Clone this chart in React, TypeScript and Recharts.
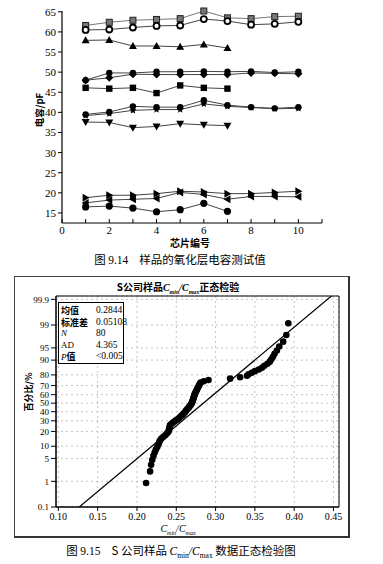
import React from 'react';
import {
  LineChart,
  Line,
  XAxis,
  YAxis,
  ScatterChart,
  Scatter,
  CartesianGrid,
  ReferenceLine,
  ReferenceArea,
} from 'recharts';

// ---------- Figure 9.14 data ----------
const chipNos = [1, 2, 3, 4, 5, 6, 7, 8, 9, 10];
const chipTicks = [0, 1, 2, 3, 4, 5, 6, 7, 8, 9, 10, 11];
const capTicks = [15, 20, 25, 30, 35, 40, 45, 50, 55, 60, 65];
const capA = [61.6, 62.4, 62.9, 63.1, 63.3, 65.2, 63.5, 63.3, 63.8, 63.9];
const capB = [60.5, 60.6, 61.1, 61.5, 61.6, 63.2, 62.7, 61.8, 62.0, 62.5];
const capC = [57.9, 58.0, 56.5, 56.5, 56.3, 56.9, 56.0];
const capD = [48.0, 49.8, 49.8, 50.1, 50.1, 50.2, 50.1, 50.2, 49.9, 50.1];
const capE = [48.0, 48.6, 49.5, 49.4, 49.4, 49.4, 49.4, 49.8, 49.7, 49.6];
const capF = [46.1, 45.9, 46.1, 44.8, 46.7, 46.1, 45.9];
const capG = [39.5, 40.1, 41.5, 41.3, 41.3, 43.0, 41.8, 41.3, 41.0, 41.3];
const capH = [39.2, 39.7, 40.5, 40.7, 40.7, 42.1, 41.5, 41.2, 40.9, 41.0];
const capI = [37.6, 37.5, 36.2, 36.5, 37.2, 36.9, 36.7];
const capJ = [18.8, 19.4, 19.4, 19.8, 20.4, 20.2, 19.8, 19.8, 20.1, 20.4];
const capK = [17.5, 18.2, 18.4, 18.6, 20.1, 19.6, 18.4, 19.1, 19.1, 19.0];
const capL = [16.5, 16.7, 16.2, 15.3, 15.8, 17.4, 15.4];

const capSeries: { key: string; values: number[]; marker: string }[] = [
  { key: 'A', values: capA, marker: 'graySquare' },
  { key: 'B', values: capB, marker: 'openCircle' },
  { key: 'C', values: capC, marker: 'triUp' },
  { key: 'D', values: capD, marker: 'circle' },
  { key: 'E', values: capE, marker: 'diamond' },
  { key: 'F', values: capF, marker: 'square' },
  { key: 'G', values: capG, marker: 'circle' },
  { key: 'H', values: capH, marker: 'star' },
  { key: 'I', values: capI, marker: 'triDown' },
  { key: 'J', values: capJ, marker: 'triRight' },
  { key: 'K', values: capK, marker: 'triLeft' },
  { key: 'L', values: capL, marker: 'bigCircle' },
];

const capRows = chipNos.map((n, i) => {
  const row: any = { chip: n };
  capSeries.forEach((s) => {
    row[s.key] = i < s.values.length ? s.values[i] : null;
  });
  return row;
});

// ---------- Figure 9.15 data ----------
const ratioValues = [
  0.2116, 0.2167, 0.218, 0.2195, 0.221, 0.2225, 0.224, 0.2258, 0.227, 0.2282,
  0.2292, 0.231, 0.2336, 0.236, 0.238, 0.2398, 0.2405, 0.241, 0.2415, 0.2418,
  0.2422, 0.244, 0.2458, 0.248, 0.25, 0.2525, 0.254, 0.2555, 0.257, 0.2585,
  0.2598, 0.261, 0.262, 0.263, 0.2642, 0.2655, 0.2665, 0.2675, 0.2685, 0.2692,
  0.27, 0.2705, 0.271, 0.2713, 0.2718, 0.2722, 0.2726, 0.273, 0.2735, 0.2742,
  0.2748, 0.2755, 0.2762, 0.2768, 0.2775, 0.2785, 0.2792, 0.28, 0.281, 0.285,
  0.291, 0.3185, 0.3312, 0.34, 0.342, 0.346, 0.35, 0.355, 0.359, 0.362,
  0.366, 0.369, 0.371, 0.373, 0.375, 0.378, 0.381, 0.386, 0.39, 0.3925,
];
const ratioTicks = [0.1, 0.15, 0.2, 0.25, 0.3, 0.35, 0.4, 0.45];
const pctLabels = ['0.1', '1', '5', '10', '20', '30', '40', '50', '60', '70', '80', '90', '95', '99', '99.9'];
const statLabels = ['均值', '标准差', 'N', 'AD', 'P值'];
const statValues = ['0.2844', '0.05108', '80', '4.365', '<0.005'];
const fitMean = 0.2844;
const fitSd = 0.05108;

// inverse standard normal CDF (probability-scale axis)
function probit(p: number): number {
  const a = [-3.969683028665376e1, 2.209460984245205e2, -2.759285104469687e2, 1.38357751867269e2, -3.066479806614716e1, 2.506628277459239];
  const b = [-5.447609879822406e1, 1.615858368580409e2, -1.556989798598866e2, 6.680131188771972e1, -1.328068155288572e1];
  const c = [-7.784894002430293e-3, -3.223964580411365e-1, -2.400758277161838, -2.549732539343734, 4.374664141464968, 2.938163982698783];
  const d = [7.784695709041462e-3, 3.224671290700398e-1, 2.445134137142996, 3.754408661907416];
  const pl = 0.02425;
  let q: number, r: number;
  if (p < pl) {
    q = Math.sqrt(-2 * Math.log(p));
    return (((((c[0] * q + c[1]) * q + c[2]) * q + c[3]) * q + c[4]) * q + c[5]) / ((((d[0] * q + d[1]) * q + d[2]) * q + d[3]) * q + 1);
  }
  if (p <= 1 - pl) {
    q = p - 0.5;
    r = q * q;
    return ((((((a[0] * r + a[1]) * r + a[2]) * r + a[3]) * r + a[4]) * r + a[5]) * q) / (((((b[0] * r + b[1]) * r + b[2]) * r + b[3]) * r + b[4]) * r + 1);
  }
  q = Math.sqrt(-2 * Math.log(1 - p));
  return -(((((c[0] * q + c[1]) * q + c[2]) * q + c[3]) * q + c[4]) * q + c[5]) / ((((d[0] * q + d[1]) * q + d[2]) * q + d[3]) * q + 1);
}

const zTicks = pctLabels.map((l) => probit(parseFloat(l) / 100));
const zMin = probit(0.001);
const zMax = 3.19;
const nPts = ratioValues.length;
const probPoints = ratioValues.map((v, i) => ({ x: v, z: probit((i + 1 - 0.3) / (nPts + 0.4)) }));
const xDomain: [number, number] = [0.097, 0.457];

const SERIF = '"Liberation Serif", "DejaVu Serif", serif';
const CJK = '"Noto Sans CJK SC", sans-serif';

function makeDot(kind: string) {
  return (p: any) => {
    const { cx, cy, index, value } = p;
    const k = `${kind}-${index}`;
    if (cx == null || cy == null || value == null || (Array.isArray(value) && value[1] == null)) return <g key={k} />;
    switch (kind) {
      case 'graySquare':
        return <rect key={k} x={cx - 3} y={cy - 3} width={6} height={6} fill="#777" stroke="#222" strokeWidth={1} />;
      case 'openCircle':
        return <circle key={k} cx={cx} cy={cy} r={3} fill="#fff" stroke="#000" strokeWidth={1.8} />;
      case 'triUp':
        return <polygon key={k} points={`${cx},${cy - 4} ${cx - 4},${cy + 3} ${cx + 4},${cy + 3}`} fill="#000" />;
      case 'triDown':
        return <polygon key={k} points={`${cx},${cy + 4} ${cx - 4},${cy - 3} ${cx + 4},${cy - 3}`} fill="#000" />;
      case 'triRight':
        return <polygon key={k} points={`${cx + 4},${cy} ${cx - 3},${cy - 4} ${cx - 3},${cy + 4}`} fill="#000" />;
      case 'triLeft':
        return <polygon key={k} points={`${cx - 4},${cy} ${cx + 3},${cy - 4} ${cx + 3},${cy + 4}`} fill="#000" />;
      case 'square':
        return <rect key={k} x={cx - 3.2} y={cy - 3.2} width={6.4} height={6.4} fill="#000" />;
      case 'diamond':
        return <polygon key={k} points={`${cx},${cy - 4} ${cx + 4},${cy} ${cx},${cy + 4} ${cx - 4},${cy}`} fill="#000" />;
      case 'star': {
        const pts: string[] = [];
        for (let j = 0; j < 10; j++) {
          const ang = (Math.PI / 5) * j - Math.PI / 2;
          const rr = j % 2 === 0 ? 3.8 : 1.8;
          pts.push(`${cx + rr * Math.cos(ang)},${cy + rr * Math.sin(ang)}`);
        }
        return <polygon key={k} points={pts.join(' ')} fill="#000" />;
      }
      case 'bigCircle':
        return <circle key={k} cx={cx} cy={cy} r={3.6} fill="#000" />;
      default:
        return <circle key={k} cx={cx} cy={cy} r={3.2} fill="#000" />;
    }
  };
}

const TopXTick = (p: any) => {
  const { x, y, payload } = p;
  const v = payload.value;
  return (
    <g>
      <line x1={x} y1={y} x2={x} y2={y - 4} stroke="#000" strokeWidth={1} />
      {v % 2 === 0 ? (
        <text x={x} y={y + 10.5} textAnchor="middle" fontFamily={SERIF} fontSize={11} fill="#000">
          {v}
        </text>
      ) : null}
    </g>
  );
};

const ProbDot = (p: any) => {
  const { cx, cy } = p;
  return <circle cx={cx} cy={cy} r={3.3} fill="#000" />;
};

const abs = (left: number, top: number, extra: React.CSSProperties = {}): React.CSSProperties => ({
  position: 'absolute',
  left,
  top,
  whiteSpace: 'nowrap',
  lineHeight: 1,
  ...extra,
});

export default function App() {
  return (
    <div style={{ position: 'absolute', left: 0, top: 0, width: 383, height: 564, background: '#fff', overflow: 'hidden' }}>
      {/* Figure 9.14 */}
      <div style={{ position: 'absolute', left: 0, top: 0 }}>
        <LineChart width={383} height={250} data={capRows} margin={{ top: 11, right: 61, bottom: 0, left: 0 }}>
          <XAxis
            dataKey="chip"
            type="number"
            domain={[0, 11]}
            ticks={chipTicks}
            interval={0}
            height={27}
            tickSize={0}
            tickMargin={0}
            tickLine={false}
            axisLine={{ stroke: '#000', strokeWidth: 1.2 }}
            tick={<TopXTick />}
          />
          <YAxis
            type="number"
            domain={[12.5, 65]}
            ticks={capTicks}
            interval={0}
            width={62}
            tickSize={4}
            tickMargin={2}
            axisLine={{ stroke: '#000', strokeWidth: 1.2 }}
            tickLine={{ stroke: '#000' }}
            tick={{ fontFamily: SERIF, fontSize: 11, fill: '#000' }}
          />
          {capSeries.map((s) => (
            <Line
              key={s.key}
              dataKey={s.key}
              type="linear"
              stroke={s.marker === 'graySquare' ? '#777' : '#444'}
              strokeWidth={1}
              dot={makeDot(s.marker)}
              activeDot={false}
              isAnimationActive={false}
              connectNulls={false}
            />
          ))}
        </LineChart>
      </div>
      <div style={abs(40, 110, { fontFamily: CJK, fontSize: 9.5, fontWeight: 700, transform: 'translate(-50%, -50%) rotate(-90deg)' })}>
        电容/pF
      </div>
      <div style={abs(190, 243, { fontFamily: CJK, fontSize: 10, fontWeight: 700, transform: 'translate(-50%, -50%)' })}>
        芯片编号
      </div>
      <div style={abs(180, 260, { fontFamily: CJK, fontSize: 11.5, transform: 'translate(-50%, -50%)' })}>
        <span style={{ fontFamily: CJK }}>图 </span>
        <span style={{ fontFamily: SERIF }}>9.14</span>
        <span style={{ marginLeft: 11 }}>样品的氧化层电容测试值</span>
      </div>

      {/* Figure 9.15 frame */}
      <div
        style={{
          position: 'absolute',
          left: 14,
          top: 276,
          width: 333,
          height: 259,
          borderTop: '1px solid #444',
          borderLeft: '1px solid #444',
          borderRight: '2px solid #333',
          borderBottom: '2px solid #333',
        }}
      />
      <div style={{ position: 'absolute', left: 0, top: 280 }}>
        <ScatterChart width={383} height={250} margin={{ top: 16, right: 44, bottom: 0, left: 0 }}>
          <CartesianGrid strokeDasharray="2 3" stroke="#c4c4c4" />
          <XAxis
            dataKey="x"
            type="number"
            domain={xDomain}
            ticks={ratioTicks}
            interval={0}
            allowDataOverflow
            height={23}
            tickSize={4}
            tickMargin={2}
            axisLine={{ stroke: '#000' }}
            tickLine={{ stroke: '#000' }}
            tickFormatter={(v: number) => v.toFixed(2)}
            tick={{ fontFamily: SERIF, fontSize: 10, fill: '#000' }}
          />
          <YAxis
            dataKey="z"
            type="number"
            domain={[zMin, zMax]}
            ticks={zTicks}
            interval={0}
            allowDataOverflow
            width={56}
            tickSize={5}
            tickMargin={2}
            axisLine={{ stroke: '#000' }}
            tickLine={{ stroke: '#000' }}
            tickFormatter={(v: number, i: number) => pctLabels[i] ?? ''}
            tick={{ fontFamily: SERIF, fontSize: 9, fill: '#000' }}
          />
          <ReferenceArea x1={xDomain[0]} x2={xDomain[1]} y1={zMin} y2={zMax} fill="none" stroke="#000" strokeWidth={1} ifOverflow="visible" />
          <ReferenceLine
            segment={[
              { x: fitMean + zMin * fitSd, y: zMin },
              { x: fitMean + zMax * fitSd, y: zMax },
            ]}
            stroke="#000"
            strokeWidth={1.2}
            ifOverflow="hidden"
          />
          <Scatter data={probPoints} shape={<ProbDot />} isAnimationActive={false} />
        </ScatterChart>
      </div>

      {/* stats box */}
      <div
        style={{
          position: 'absolute',
          left: 58,
          top: 302,
          width: 64,
          height: 60,
          border: '1px solid #000',
          background: '#fff',
        }}
      />
      {statLabels.map((l, i) => (
        <div
          key={l}
          style={abs(61, 306 + i * 11.5, {
            fontFamily: l === 'N' || l === 'AD' ? SERIF : CJK,
            fontStyle: l === 'N' ? 'italic' : 'normal',
            fontWeight: l === 'N' || l === 'AD' ? 400 : 700,
            fontSize: 9,
            height: 10,
          })}
        >
          {l === 'P值' ? (
            <>
              <span style={{ fontFamily: SERIF, fontStyle: 'italic', fontWeight: 400 }}>P</span>值
            </>
          ) : (
            l
          )}
        </div>
      ))}
      {statValues.map((v, i) => (
        <div key={v} style={abs(96, 306 + i * 11.5, { fontFamily: SERIF, fontSize: 9.5 })}>
          {v}
        </div>
      ))}

      {/* titles */}
      <div style={abs(178, 288, { fontFamily: CJK, fontSize: 10, fontWeight: 700, transform: 'translate(-50%, -50%)' })}>
        S公司样品
        <span style={{ fontFamily: SERIF, fontStyle: 'italic' }}>C</span>
        <sub style={{ fontFamily: SERIF, fontStyle: 'italic', fontSize: 6 }}>min</sub>
        <span style={{ fontFamily: SERIF, fontStyle: 'italic' }}>/C</span>
        <sub style={{ fontFamily: SERIF, fontStyle: 'italic', fontSize: 6 }}>max</sub>
        正态检验
      </div>
      <div style={abs(28, 392, { fontFamily: CJK, fontSize: 9, fontWeight: 700, transform: 'translate(-50%, -50%) rotate(-90deg)' })}>
        百分比/%
      </div>
      <div style={abs(178, 529.5, { fontFamily: SERIF, fontSize: 10, fontStyle: 'italic', transform: 'translate(-50%, -50%)' })}>
        C<sub style={{ fontSize: 6 }}>min</sub>/C<sub style={{ fontSize: 6 }}>max</sub>
      </div>
      <div style={abs(181, 552, { fontFamily: CJK, fontSize: 11.5, transform: 'translate(-50%, -50%)' })}>
        图 <span style={{ fontFamily: SERIF }}>9.15</span>
        <span style={{ marginLeft: 11 }}>S 公司样品 </span>
        <span style={{ fontFamily: SERIF, fontStyle: 'italic' }}>C</span>
        <sub style={{ fontFamily: SERIF, fontSize: 7.5 }}>min</sub>
        <span style={{ fontFamily: SERIF, fontStyle: 'italic' }}>/C</span>
        <sub style={{ fontFamily: SERIF, fontSize: 7.5 }}>max</sub>
        <span> 数据正态检验图</span>
      </div>
    </div>
  );
}
